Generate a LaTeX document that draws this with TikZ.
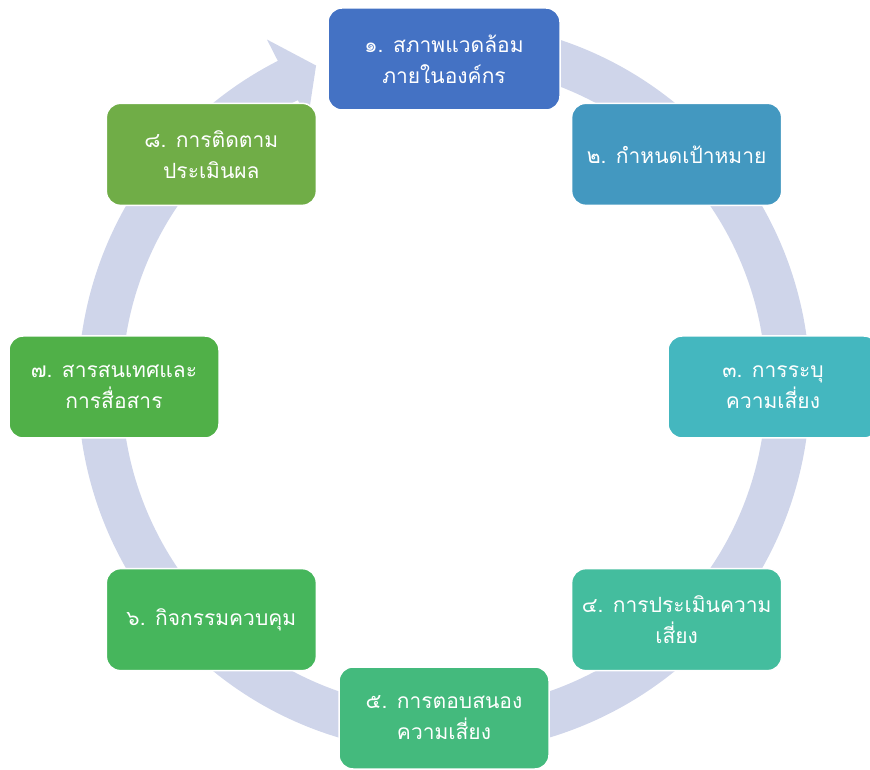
\documentclass[tikz,border=0pt]{standalone}
\usepackage{fontspec}
\newfontfamily\thaifont[Script=Thai]{Loma}
\usetikzlibrary{calc}
\definecolor{ringc}{HTML}{CFD5EA}
\definecolor{envc}{HTML}{4472C4}
\definecolor{goalc}{HTML}{4398C0}
\definecolor{identc}{HTML}{44B7BF}
\definecolor{assessc}{HTML}{44BD9E}
\definecolor{respc}{HTML}{44BA7D}
\definecolor{ctrlc}{HTML}{46B65C}
\definecolor{infoc}{HTML}{50B048}
\definecolor{monc}{HTML}{70AD47}

\begin{document}
\begin{tikzpicture}[x=1pt,y=1pt]
    \tikzstyle{phase}=[rectangle,rounded corners=14pt,draw=white,line
    width=1.5pt,text=white,align=center,inner sep=2pt,minimum width=210pt,
    minimum height=102pt,font=\thaifont\fontsize{21}{31}\selectfont]

    \tikzstyle{ring}=[fill=ringc]

    \useasboundingbox (0,0) rectangle (870,769);
    \coordinate (ctr) at (444,382);

    % the big circular arrow behind the boxes
    \fill[ring,shift={(ctr)}] (80:366pt) arc[start angle=80,end angle=-243,radius=366pt]
      -- (-243:390pt) -- (-248.3:346pt) -- (-243:300pt) -- (-243:322pt)
      arc[start angle=-243,end angle=80,radius=322pt] -- cycle;

    \node[phase,fill=envc,minimum width=232pt](env) at ($(ctr)+(90:328pt)$){๑. สภาพแวดล้อม \\ ภายในองค์กร};
    \node[phase,fill=goalc](goal) at ($(ctr)+(45:329pt)$){๒. กำหนดเป้าหมาย};
    \node[phase,fill=identc](ident) at ($(ctr)+(0:329pt)$){๓. การระบุ \\ ความเสี่ยง};
    \node[phase,fill=assessc](assess) at ($(ctr)+(-45:329pt)$){๔. การประเมินความ \\ เสี่ยง};
    \node[phase,fill=respc](resp) at ($(ctr)+(-90:331pt)$){๕. การตอบสนอง \\ ความเสี่ยง};
    \node[phase,fill=ctrlc](ctrl) at ($(ctr)+(-135:329pt)$){๖. กิจกรรมควบคุม};
    \node[phase,fill=infoc](info) at ($(ctr)+(180:330pt)$){๗. สารสนเทศและ \\ การสื่อสาร};
    \node[phase,fill=monc](mon) at ($(ctr)+(135:329pt)$){๘. การติดตาม \\ ประเมินผล};
  \end{tikzpicture}
\end{document}
